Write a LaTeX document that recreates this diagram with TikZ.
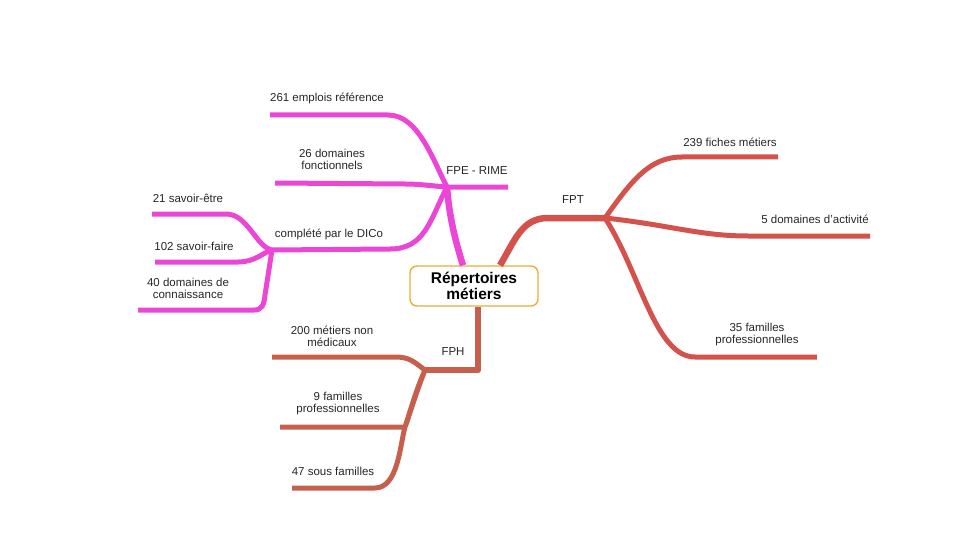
\documentclass[tikz,border=0pt]{standalone}
\usepackage{fontspec}
\setmainfont{Liberation Sans}
\usepackage{tikz}
\definecolor{rose}{RGB}{236,70,214}
\definecolor{tomate}{RGB}{212,82,76}
\definecolor{brique}{RGB}{198,96,76}
\definecolor{ambre}{RGB}{236,172,56}

\begin{document}
\begin{tikzpicture}[x=1pt, y=-1pt, line join=round,
                    main node/.style={draw=ambre, line width=1.4pt, fill=white, rounded corners=7pt,
                      minimum width=128pt, minimum height=40pt, inner sep=0pt, align=center,
                      font=\bfseries\fontsize{15.5}{16.5}\selectfont},
                    txt node/.style={align=center, inner sep=0pt, text=black!85,
                      font=\fontsize{11.5}{12}\selectfont},
                    fpe line/.style={draw=rose, line width=5pt},
                    fpt line/.style={draw=tomate, line width=5pt},
                    fph line/.style={draw=brique, line width=5pt},
                    thick line/.style={line width=6.5pt}]

  \useasboundingbox (0,0) rectangle (960,540);

  % hubs and line ends
  \coordinate (fpe) at (447,187);
  \coordinate (fpe end) at (508,187);
  \coordinate (dico) at (272,250);
  \coordinate (fpt) at (605,218);
  \coordinate (fph) at (425,370);
  \coordinate (e1) at (270,115);
  \coordinate (e2) at (275,183);
  \coordinate (e3) at (152,214);
  \coordinate (e4) at (155,262);
  \coordinate (e5) at (138,310);
  \coordinate (t1) at (778,157);
  \coordinate (t2) at (870,236);
  \coordinate (t3) at (817,357);
  \coordinate (h1) at (272,357);
  \coordinate (h2) at (280,427);
  \coordinate (h3) at (292,488);

  % FPE - RIME
  \path[fpe line] (fpe) -- (fpe end)
    (e1) -- (388,115) .. controls (418,115) and (432,158) .. (fpe)
    (e2) -- (405,184) .. controls (420,184) and (432,186) .. (fpe)
    (fpe) .. controls (430,220) and (425,249) .. (390,249) -- (dico)
    (e3) -- (226,214) .. controls (248,214) and (256,247) .. (dico)
    (e4) -- (238,262) .. controls (255,262) and (262,253) .. (dico)
    (e5) -- (254,310) .. controls (262,310) and (264,305) .. (265,295) -- (dico);

  % FPT
  \path[fpt line] (fpt) .. controls (632,180) and (650,157) .. (682,157) -- (t1)
    (fpt) .. controls (670,225) and (700,236) .. (748,236) -- (t2)
    (fpt) .. controls (640,272) and (655,357) .. (695,357) -- (t3);

  % FPH
  \path[fph line] (fph) .. controls (414,362) and (410,357) .. (395,357) -- (h1)
    (fph) .. controls (416,390) and (410,412) .. (405,427) -- (h2)
    (fph) .. controls (414,398) and (408,420) .. (405,427)
          .. controls (400,445) and (398,488) .. (375,488) -- (h3);

  \node[main node] (c) at (474,286) {Répertoires\\métiers};

  \path[fpe line, thick line] ([xshift=-11pt]c.north) .. controls (455,240) and (449,215) .. (fpe);
  \path[fpt line, thick line] ([xshift=26pt]c.north) .. controls (515,240) and (522,218) .. (548,218) -- (fpt);
  \path[fph line, thick line] ([xshift=4pt]c.south) -- (478,370) -- (fph);

  % labels
  \node[txt node] (n1) at (327,98) {261 emplois référence};
  \node[txt node] (n2) at (332,159) {26 domaines\\fonctionnels};
  \node[txt node] (n3) at (477,171) {FPE - RIME};
  \node[txt node] (n4) at (329,234) {complété par le DICo};
  \node[txt node] (n5) at (188,198) {21 savoir-être};
  \node[txt node] (n6) at (194,246) {102 savoir-faire};
  \node[txt node] (n7) at (188,288) {40 domaines de\\connaissance};
  \node[txt node] (n8) at (573,200) {FPT};
  \node[txt node] (n9) at (730,142) {239 fiches métiers};
  \node[txt node] (n10) at (815,219) {5 domaines d'activité};
  \node[txt node] (n11) at (757,335) {35 familles\\professionnelles};
  \node[txt node] (n12) at (453,352) {FPH};
  \node[txt node] (n13) at (332,336) {200 métiers non\\médicaux};
  \node[txt node] (n14) at (338,404) {9 familles\\professionnelles};
  \node[txt node] (n15) at (333,471) {47 sous familles};
\end{tikzpicture}
\end{document}
